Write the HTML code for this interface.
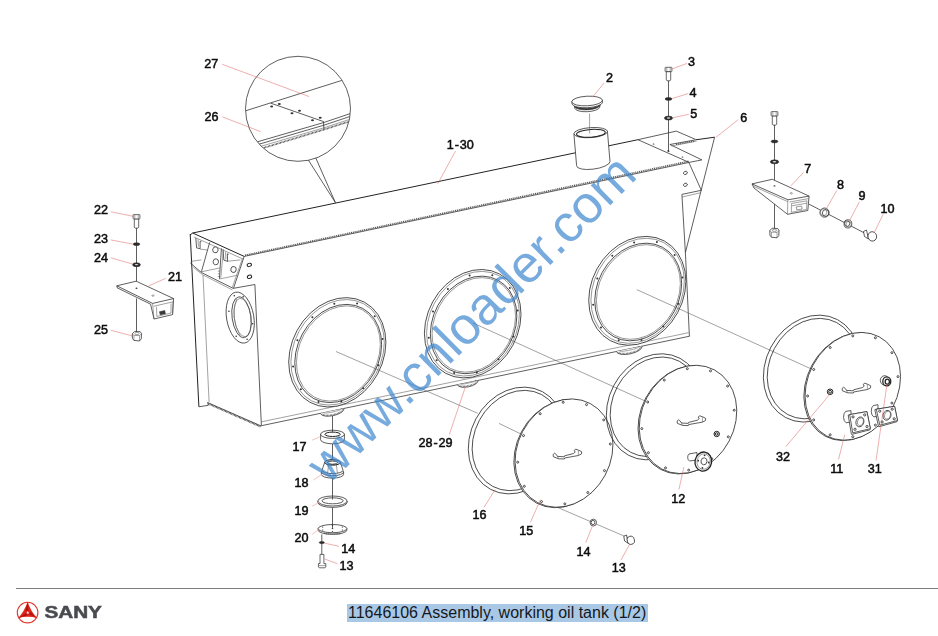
<!DOCTYPE html>
<html><head><meta charset="utf-8"><title>11646106 Assembly, working oil tank (1/2)</title>
<style>
html,body{margin:0;padding:0;background:#fff;}
body{width:938px;height:636px;overflow:hidden;position:relative;font-family:"Liberation Sans",sans-serif;}
svg{position:absolute;left:0;top:0;filter:blur(0.35px);}
.k{fill:none;stroke:#2a2a2a;stroke-width:0.75;}
.kw{fill:#fff;stroke:#2a2a2a;stroke-width:0.75;stroke-linejoin:round;}
.kt{fill:none;stroke:#555;stroke-width:0.55;}
.k2{fill:none;stroke:#222;stroke-width:1.3;}
.kh2{fill:none;stroke:#666;stroke-width:1.6;stroke-dasharray:0.7 0.7;}
.kdk{fill:#3a3a3a;stroke:#333;stroke-width:0.5;}
.kb{fill:#fff;stroke:#2a2a2a;stroke-width:0.7;stroke-linejoin:miter;}
.k1w{fill:#fff;stroke:#222;stroke-width:1.0;}
.kh3{fill:none;stroke:#444;stroke-width:1.7;stroke-dasharray:0.8 0.6;}
.k1{fill:none;stroke:#222;stroke-width:1.0;}
.kh{fill:none;stroke:#5a5a5a;stroke-width:1.6;stroke-dasharray:1.1 0.8;}
.k2w{fill:#fff;stroke:#222;stroke-width:1.3;}
.kd{fill:#fff;stroke:#222;stroke-width:0.8;}
.dot{fill:#333;stroke:none;}
.wa{fill:#2b2b2b;stroke:#2b2b2b;stroke-width:0.5;}
.wi{fill:#ddd;stroke:none;}
.r{stroke:#d9625c;stroke-width:0.6;stroke-opacity:0.85;fill:none;}
.rp{stroke:#f0a8a4;stroke-width:0.7;fill:none;}
.lb{font-family:"Liberation Sans",sans-serif;font-size:12.6px;fill:#0c0c0c;stroke:#0c0c0c;stroke-width:0.5;}
.wm{font-family:"Liberation Sans",sans-serif;font-size:52.5px;fill:#3f88cf;fill-opacity:0.7;}
#rule{position:absolute;left:16px;top:588px;width:922px;height:1px;background:#7d7d7d;}
#title{position:absolute;left:347px;top:604.3px;width:300px;height:17.7px;line-height:17.7px;background:#a9c8e6;color:#15181c;font-size:16px;white-space:nowrap;padding:0 0 0 1px;overflow:hidden;}
</style></head><body>
<svg width="938" height="636" viewBox="0 0 938 636">
<g>
<clipPath id="dc"><circle cx="298" cy="108.8" r="52.2"/></clipPath>
<path class="k" d="M308.2 159.8 L335.4 202.6 L315.8 158.0"/>
<circle class="kw" cx="298" cy="108.8" r="52.5"/>
<g clip-path="url(#dc)">
<line class="k" x1="245.0" y1="111.0" x2="342.5" y2="80.2"/>
<line class="k" x1="270.8" y1="103.2" x2="323.6" y2="121.6"/>
<path class="k" d="M255.0 142.5 L323.5 122.6 L352.0 113.0"/>
<path class="k" d="M257.0 144.8 L323.9 125.2 L352.0 115.8"/>
<path class="kt" d="M258.0 147.2 L323.9 127.8 L352.0 118.6"/>
<path class="kh3" d="M260.0 149.0 L323.9 129.6 L352.0 120.6"/>
<line class="k" x1="323.5" y1="121.6" x2="323.9" y2="129.3"/>
</g>
<ellipse class="dot" cx="271.6" cy="106.4" rx="1.5" ry="1.0"/>
<ellipse class="dot" cx="279.3" cy="103.9" rx="1.5" ry="1.0"/>
<ellipse class="dot" cx="292.0" cy="113.3" rx="1.5" ry="1.0"/>
<ellipse class="dot" cx="299.5" cy="110.8" rx="1.5" ry="1.0"/>
<ellipse class="dot" cx="312.5" cy="120.2" rx="1.5" ry="1.0"/>
<ellipse class="dot" cx="320.2" cy="117.7" rx="1.5" ry="1.0"/>
</g>
<text class="lb" x="204.3" y="67.6" text-anchor="start">27</text>
<line class="r" x1="222.2" y1="64.3" x2="309.2" y2="96.6"/>
<text class="lb" x="204.6" y="121.3" text-anchor="start">26</text>
<line class="r" x1="222.2" y1="116.8" x2="260.6" y2="131.6"/>
<line class="k1" x1="192.7" y1="233.0" x2="637.9" y2="139.7"/>
<path class="k1" d="M190.0 235.0 L192.7 233.0"/>
<line class="k" x1="244.2" y1="256.4" x2="689.1" y2="162.4"/>
<line class="kh" x1="245.0" y1="255.3" x2="689.0" y2="161.2"/>
<line class="k1" x1="192.7" y1="233.0" x2="244.2" y2="256.4"/>
<line class="kt" x1="194.0" y1="237.0" x2="242.5" y2="258.8"/>
<line class="k1" x1="190.2" y1="234.0" x2="198.9" y2="406.8"/>
<line class="kt" x1="203.0" y1="275.0" x2="209.1" y2="402.0"/>
<line class="k" x1="198.9" y1="406.8" x2="208.3" y2="405.3"/>
<line class="k" x1="208.3" y1="405.3" x2="207.6" y2="402.2"/>
<line class="k" x1="207.8" y1="402.6" x2="261.2" y2="426.0"/>
<line class="kh3" x1="208.4" y1="403.8" x2="260.8" y2="426.8"/>
<line class="k" x1="254.9" y1="284.5" x2="261.4" y2="425.7"/>
<line class="k" x1="261.4" y1="425.7" x2="689.6" y2="336.2"/>
<line class="kt" x1="261.6" y1="421.8" x2="688.6" y2="332.7"/>
<path class="k" d="M244.2 256.4 L233.5 288.3 L254.9 284.5"/>
<path class="k" d="M190.4 263.1 L201.4 272.5 L233.5 288.5"/>
<path class="kt" d="M193.4 267.4 L202.7 274.8 L232.4 289.9"/>
<path class="kt" d="M190.7 261.4 L201.4 259.9"/>
<path class="k" d="M195.8 238.0 L196.6 247.9 L200.1 248.7 L200.1 241.2 L201.4 241.7"/>
<path class="kt" d="M198.0 239.3 L198.4 246.8"/>
<path class="k" d="M223.0 250.3 L223.9 260.2 L227.6 261.3 L227.3 253.8 L228.8 254.3"/>
<path class="kt" d="M225.5 251.8 L225.9 259.4"/>
<path class="k" d="M209.7 242.4 L201.4 271.8"/>
<path class="k" d="M221.4 248.4 L219.4 279.2"/>
<path class="kt" d="M201.4 271.8 L220.1 267.9"/>
<path class="kt" d="M200.1 249.1 L207.4 250.0"/>
<path class="kt" d="M223.4 249.1 L220.8 277.8"/>
<path class="kt" d="M242.6 258.0 L232.4 287.2"/>
<path class="kt" d="M220.1 278.9 L236.8 275.4"/>
<path class="kt" d="M227.1 261.3 L240.4 259.9"/>
<path class="kt" d="M217.8 271.1 L220.1 271.1"/>
<path class="kt" d="M217.8 273.8 L220.1 273.8"/>
<path class="kt" d="M217.8 276.5 L220.1 276.5"/>
<ellipse class="kw" cx="215.4" cy="249.8" rx="2.7" ry="3.0" transform="rotate(10 215.4 249.8)"/>
<ellipse class="kw" cx="215.8" cy="261.8" rx="2.7" ry="3.0" transform="rotate(10 215.8 261.8)"/>
<ellipse class="kw" cx="233.5" cy="269.5" rx="2.7" ry="3.0" transform="rotate(10 233.5 269.5)"/>
<ellipse class="k1w" cx="249.3" cy="264.9" rx="2.2" ry="1.6" transform="rotate(-20 249.3 264.9)"/>
<ellipse class="k1w" cx="249.5" cy="276.8" rx="2.2" ry="1.6" transform="rotate(-20 249.5 276.8)"/>
<ellipse class="kw" cx="240.2" cy="317.6" rx="13.6" ry="25.8" transform="rotate(-10 240.2 317.6)"/>
<ellipse class="kw" cx="241.5" cy="317.3" rx="9.4" ry="20.6" transform="rotate(-8 241.5 317.3)"/>
<ellipse class="kt" cx="242.6" cy="317.5" rx="8.4" ry="19.4" transform="rotate(-8 242.6 317.5)"/>
<path class="kt" d="M236.5 299 Q230 318 240.5 336.5"/>
<ellipse class="dot" cx="228.9" cy="311.3" rx="0.8" ry="0.8"/>
<ellipse class="dot" cx="234.3" cy="295.8" rx="0.8" ry="0.8"/>
<ellipse class="dot" cx="243.2" cy="296.8" rx="0.8" ry="0.8"/>
<ellipse class="dot" cx="252.5" cy="323.7" rx="0.8" ry="0.8"/>
<ellipse class="dot" cx="247.1" cy="339.2" rx="0.8" ry="0.8"/>
<ellipse class="dot" cx="236.2" cy="336.2" rx="0.8" ry="0.8"/>
<path class="k" d="M714.6 137.2 L685.4 252.6"/>
<path class="k" d="M689.0 162.7 L701.3 190.3"/>
<path class="k" d="M681.9 194.4 L701.3 190.3"/>
<path class="kt" d="M682.2 197.0 L700.3 192.8"/>
<path class="k" d="M681.9 194.4 L685.4 252.6"/>
<path class="k" d="M685.4 252.6 L689.4 336.2"/>
<ellipse class="kw" cx="685.4" cy="172.9" rx="2.0" ry="1.5" transform="rotate(-25 685.4 172.9)"/>
<ellipse class="kw" cx="685.4" cy="184.8" rx="2.0" ry="1.5" transform="rotate(-25 685.4 184.8)"/>
<path class="k" d="M637.9 139.7 L676.3 131.1 L695.5 139.4"/>
<path class="k" d="M637.9 139.7 L689.1 162.4 L701.9 159.9 L669.9 144.5"/>
<path class="k" d="M669.9 144.5 L695.8 139.8"/>
<path class="kt" d="M671.5 146.0 L696.5 141.2"/>
<path class="kh" d="M676.0 144.3 L694.0 141.0"/>
<path class="k1" d="M695.8 139.8 L714.6 137.2"/>
<ellipse class="dot" cx="653.5" cy="144.0" rx="0.9" ry="0.6"/>
<ellipse class="dot" cx="668.3" cy="150.5" rx="0.9" ry="0.6"/>
<ellipse class="dot" cx="682.5" cy="157.0" rx="0.9" ry="0.6"/>
<path class="kw" d="M320.5 413.3 A11.8 4.8 -12 0 0 344.0 408.4"/>
<path class="kh2" d="M322.0 413.9 A10.2 3.2 -12 0 0 342.5 409.0"/>
<path class="kt" d="M323.5 412.9 A8.8 1.4 -12 0 0 341.0 408.2"/>
<ellipse class="kw" cx="337.3" cy="352.3" rx="45.8" ry="57.0" transform="rotate(28.5 337.3 352.3)"/>
<ellipse class="kt" cx="337.6" cy="352.3" rx="43.9" ry="55.1" transform="rotate(28.5 337.6 352.3)"/>
<ellipse class="k" cx="338.2" cy="353.5" rx="40.8" ry="51.3" transform="rotate(28.5 338.2 353.5)"/>
<ellipse class="kt" cx="338.4" cy="353.5" rx="39.3" ry="49.8" transform="rotate(28.5 338.4 353.5)"/>
<ellipse class="dot" cx="363.2" cy="388.2" rx="1.0" ry="1.0"/>
<ellipse class="dot" cx="341.3" cy="401.6" rx="1.0" ry="1.0"/>
<ellipse class="dot" cx="318.5" cy="402.0" rx="1.0" ry="1.0"/>
<ellipse class="dot" cx="300.9" cy="389.2" rx="1.0" ry="1.0"/>
<ellipse class="dot" cx="293.1" cy="366.5" rx="1.0" ry="1.0"/>
<ellipse class="dot" cx="297.4" cy="340.2" rx="1.0" ry="1.0"/>
<ellipse class="dot" cx="312.4" cy="317.2" rx="1.0" ry="1.0"/>
<ellipse class="dot" cx="334.3" cy="303.8" rx="1.0" ry="1.0"/>
<ellipse class="dot" cx="357.1" cy="303.4" rx="1.0" ry="1.0"/>
<ellipse class="dot" cx="374.7" cy="316.2" rx="1.0" ry="1.0"/>
<ellipse class="dot" cx="382.5" cy="338.9" rx="1.0" ry="1.0"/>
<ellipse class="dot" cx="378.2" cy="365.2" rx="1.0" ry="1.0"/>
<path class="kw" d="M457.5 384.7 A10.2 4.2 -12 0 0 478.0 380.4"/>
<path class="kh2" d="M459.0 385.3 A8.8 2.6 -12 0 0 476.5 381.0"/>
<path class="kt" d="M460.5 384.3 A7.2 0.8 -12 0 0 475.0 380.2"/>
<ellipse class="kw" cx="472.7" cy="323.7" rx="45.6" ry="56.5" transform="rotate(28.5 472.7 323.7)"/>
<ellipse class="kt" cx="473.0" cy="323.7" rx="43.7" ry="54.6" transform="rotate(28.5 473.0 323.7)"/>
<ellipse class="k" cx="473.6" cy="324.9" rx="40.7" ry="50.9" transform="rotate(28.5 473.6 324.9)"/>
<ellipse class="kt" cx="473.8" cy="324.9" rx="39.2" ry="49.4" transform="rotate(28.5 473.8 324.9)"/>
<ellipse class="dot" cx="498.5" cy="359.3" rx="1.0" ry="1.0"/>
<ellipse class="dot" cx="476.8" cy="372.6" rx="1.0" ry="1.0"/>
<ellipse class="dot" cx="454.1" cy="373.0" rx="1.0" ry="1.0"/>
<ellipse class="dot" cx="436.6" cy="360.2" rx="1.0" ry="1.0"/>
<ellipse class="dot" cx="428.8" cy="337.7" rx="1.0" ry="1.0"/>
<ellipse class="dot" cx="433.0" cy="311.6" rx="1.0" ry="1.0"/>
<ellipse class="dot" cx="447.9" cy="288.9" rx="1.0" ry="1.0"/>
<ellipse class="dot" cx="469.6" cy="275.6" rx="1.0" ry="1.0"/>
<ellipse class="dot" cx="492.3" cy="275.2" rx="1.0" ry="1.0"/>
<ellipse class="dot" cx="509.8" cy="288.0" rx="1.0" ry="1.0"/>
<ellipse class="dot" cx="517.6" cy="310.5" rx="1.0" ry="1.0"/>
<ellipse class="dot" cx="513.4" cy="336.6" rx="1.0" ry="1.0"/>
<path class="kw" d="M616.5 351.5 A12.8 5.0 -12 0 0 642.0 346.2"/>
<path class="kh2" d="M618.0 352.1 A11.2 3.4 -12 0 0 640.5 346.8"/>
<path class="kt" d="M619.5 351.1 A9.8 1.6 -12 0 0 639.0 346.0"/>
<ellipse class="kw" cx="637.3" cy="290.8" rx="45.9" ry="56.7" transform="rotate(28.5 637.3 290.8)"/>
<ellipse class="kt" cx="637.6" cy="290.8" rx="44.0" ry="54.8" transform="rotate(28.5 637.6 290.8)"/>
<ellipse class="k" cx="638.2" cy="292.0" rx="41.0" ry="50.9" transform="rotate(28.5 638.2 292.0)"/>
<ellipse class="kt" cx="638.4" cy="292.0" rx="39.5" ry="49.4" transform="rotate(28.5 638.4 292.0)"/>
<ellipse class="dot" cx="663.3" cy="326.6" rx="1.0" ry="1.0"/>
<ellipse class="dot" cx="641.5" cy="340.0" rx="1.0" ry="1.0"/>
<ellipse class="dot" cx="618.7" cy="340.3" rx="1.0" ry="1.0"/>
<ellipse class="dot" cx="601.0" cy="327.4" rx="1.0" ry="1.0"/>
<ellipse class="dot" cx="593.2" cy="304.8" rx="1.0" ry="1.0"/>
<ellipse class="dot" cx="597.3" cy="278.6" rx="1.0" ry="1.0"/>
<ellipse class="dot" cx="612.3" cy="255.8" rx="1.0" ry="1.0"/>
<ellipse class="dot" cx="634.1" cy="242.4" rx="1.0" ry="1.0"/>
<ellipse class="dot" cx="656.9" cy="242.1" rx="1.0" ry="1.0"/>
<ellipse class="dot" cx="674.6" cy="255.0" rx="1.0" ry="1.0"/>
<ellipse class="dot" cx="682.4" cy="277.6" rx="1.0" ry="1.0"/>
<ellipse class="dot" cx="678.3" cy="303.8" rx="1.0" ry="1.0"/>
<line class="kt" x1="336.0" y1="351.5" x2="477.8" y2="413.3"/>
<line class="kt" x1="499.0" y1="423.4" x2="523.0" y2="435.0"/>
<line class="kt" x1="473.0" y1="323.0" x2="646.7" y2="401.7"/>
<line class="kt" x1="636.8" y1="289.6" x2="811.8" y2="369.2"/>
<line class="kt" x1="545.5" y1="502.2" x2="631.0" y2="539.0"/>
<ellipse class="k" cx="516.5" cy="440.5" rx="46.0" ry="55.3" transform="rotate(28 516.5 440.5)"/>
<ellipse class="k" cx="517.2" cy="440.5" rx="42.9" ry="52.0" transform="rotate(28 517.2 440.5)"/>
<ellipse class="kw" cx="562.8" cy="453.5" rx="46.7" ry="56.1" transform="rotate(28 562.8 453.5)"/>
<ellipse class="kw" cx="564.0" cy="453.1" rx="46.7" ry="56.1" transform="rotate(28 564.0 453.1)"/>
<ellipse class="kd" cx="604.5" cy="470.6" rx="1.0" ry="1.0"/>
<ellipse class="kd" cx="587.8" cy="492.5" rx="1.0" ry="1.0"/>
<ellipse class="kd" cx="564.8" cy="503.9" rx="1.0" ry="1.0"/>
<ellipse class="kd" cx="541.5" cy="501.6" rx="1.0" ry="1.0"/>
<ellipse class="kd" cx="524.3" cy="486.3" rx="1.0" ry="1.0"/>
<ellipse class="kd" cx="517.7" cy="462.2" rx="1.0" ry="1.0"/>
<ellipse class="kd" cx="523.5" cy="435.6" rx="1.0" ry="1.0"/>
<ellipse class="kd" cx="540.2" cy="413.7" rx="1.0" ry="1.0"/>
<ellipse class="kd" cx="563.2" cy="402.3" rx="1.0" ry="1.0"/>
<ellipse class="kd" cx="586.5" cy="404.6" rx="1.0" ry="1.0"/>
<ellipse class="kd" cx="603.7" cy="419.9" rx="1.0" ry="1.0"/>
<ellipse class="kd" cx="610.3" cy="444.0" rx="1.0" ry="1.0"/>
<path class="kw" d="M554.6 453.2 L553.1 454.5 L553.4 456.8 L558.6 458.8 L564.3 459.0 L564.6 458.0 L578.4 455.5 L581.5 453.9 L581.7 451.8 L579.0 450.4 L575.8 449.2 L574.2 450.4 L575.2 452.1 L573.3 453.6 L564.6 455.8 L564.3 456.8 L557.6 456.4 L555.4 453.6 Z"/>
<path class="kt" d="M557.3 455.9 L558.6 458.8 M578.4 450.8 L578.4 455.5"/>
<ellipse class="k" cx="654.3" cy="406.8" rx="45.8" ry="54.9" transform="rotate(28 654.3 406.8)"/>
<ellipse class="k" cx="655.0" cy="406.8" rx="42.7" ry="51.6" transform="rotate(28 655.0 406.8)"/>
<ellipse class="kw" cx="686.8" cy="419.8" rx="46.5" ry="56.1" transform="rotate(28 686.8 419.8)"/>
<ellipse class="kw" cx="688.0" cy="419.4" rx="46.5" ry="56.1" transform="rotate(28 688.0 419.4)"/>
<ellipse class="kd" cx="728.3" cy="436.8" rx="1.0" ry="1.0"/>
<ellipse class="kd" cx="711.7" cy="458.7" rx="1.0" ry="1.0"/>
<ellipse class="kd" cx="688.7" cy="470.1" rx="1.0" ry="1.0"/>
<ellipse class="kd" cx="665.5" cy="467.9" rx="1.0" ry="1.0"/>
<ellipse class="kd" cx="648.4" cy="452.7" rx="1.0" ry="1.0"/>
<ellipse class="kd" cx="641.8" cy="428.6" rx="1.0" ry="1.0"/>
<ellipse class="kd" cx="647.7" cy="402.0" rx="1.0" ry="1.0"/>
<ellipse class="kd" cx="664.3" cy="380.1" rx="1.0" ry="1.0"/>
<ellipse class="kd" cx="687.3" cy="368.7" rx="1.0" ry="1.0"/>
<ellipse class="kd" cx="710.5" cy="370.9" rx="1.0" ry="1.0"/>
<ellipse class="kd" cx="727.6" cy="386.1" rx="1.0" ry="1.0"/>
<ellipse class="kd" cx="734.2" cy="410.2" rx="1.0" ry="1.0"/>
<path class="kw" d="M678.6 419.8 L677.1 421.1 L677.4 423.4 L682.6 425.4 L688.3 425.6 L688.6 424.6 L702.4 422.1 L705.5 420.5 L705.7 418.4 L703.0 417.0 L699.8 415.8 L698.2 417.0 L699.2 418.7 L697.3 420.2 L688.6 422.4 L688.3 423.4 L681.6 423.0 L679.4 420.2 Z"/>
<path class="kt" d="M681.3 422.5 L682.6 425.4 M702.4 417.4 L702.4 422.1"/>
<ellipse class="k" cx="811.6" cy="368.6" rx="46.0" ry="55.4" transform="rotate(28 811.6 368.6)"/>
<ellipse class="k" cx="812.3" cy="368.6" rx="42.9" ry="52.1" transform="rotate(28 812.3 368.6)"/>
<ellipse class="kw" cx="851.6" cy="386.7" rx="45.1" ry="56.1" transform="rotate(28 851.6 386.7)"/>
<ellipse class="kw" cx="852.8" cy="386.3" rx="45.1" ry="56.1" transform="rotate(28 852.8 386.3)"/>
<ellipse class="kd" cx="891.9" cy="403.1" rx="1.0" ry="1.0"/>
<ellipse class="kd" cx="875.4" cy="425.1" rx="1.0" ry="1.0"/>
<ellipse class="kd" cx="852.8" cy="436.7" rx="1.0" ry="1.0"/>
<ellipse class="kd" cx="830.2" cy="434.8" rx="1.0" ry="1.0"/>
<ellipse class="kd" cx="813.7" cy="419.9" rx="1.0" ry="1.0"/>
<ellipse class="kd" cx="807.6" cy="396.0" rx="1.0" ry="1.0"/>
<ellipse class="kd" cx="813.7" cy="369.5" rx="1.0" ry="1.0"/>
<ellipse class="kd" cx="830.2" cy="347.5" rx="1.0" ry="1.0"/>
<ellipse class="kd" cx="852.8" cy="335.9" rx="1.0" ry="1.0"/>
<ellipse class="kd" cx="875.4" cy="337.8" rx="1.0" ry="1.0"/>
<ellipse class="kd" cx="891.9" cy="352.7" rx="1.0" ry="1.0"/>
<ellipse class="kd" cx="898.0" cy="376.6" rx="1.0" ry="1.0"/>
<path class="kw" d="M843.6 387.2 L842.1 388.5 L842.4 390.8 L847.6 392.8 L853.3 393.0 L853.6 392.0 L867.4 389.5 L870.5 387.9 L870.7 385.8 L868.0 384.4 L864.8 383.2 L863.2 384.4 L864.2 386.1 L862.3 387.6 L853.6 389.8 L853.3 390.8 L846.6 390.4 L844.4 387.6 Z"/>
<path class="kt" d="M846.3 389.9 L847.6 392.8 M867.4 384.8 L867.4 389.5"/>
<ellipse class="k1w" cx="716.7" cy="434.0" rx="2.7" ry="2.7"/>
<ellipse class="k1" cx="716.7" cy="434.0" rx="1.3" ry="1.3"/>
<path class="kw" d="M697 452.5 L689 454 A3 4 0 0 0 689.5 461 L697 460 Z"/>
<ellipse class="k2w" cx="703.3" cy="461.6" rx="8.3" ry="9.6" transform="rotate(10 703.3 461.6)"/>
<ellipse class="kt" cx="703.6" cy="461.6" rx="6.6" ry="7.8" transform="rotate(10 703.6 461.6)"/>
<ellipse class="k" cx="704.0" cy="461.3" rx="3.0" ry="3.5" transform="rotate(10 704.0 461.3)"/>
<ellipse class="dot" cx="708.8" cy="462.5" rx="0.9" ry="0.9"/>
<ellipse class="dot" cx="702.4" cy="467.9" rx="0.9" ry="0.9"/>
<ellipse class="dot" cx="698.2" cy="460.7" rx="0.9" ry="0.9"/>
<ellipse class="dot" cx="704.6" cy="455.3" rx="0.9" ry="0.9"/>
<ellipse class="k1w" cx="830.1" cy="391.8" rx="2.8" ry="2.8"/>
<ellipse class="k1" cx="830.1" cy="391.8" rx="1.4" ry="1.4"/>
<ellipse class="kw" cx="884.6" cy="380.4" rx="4.3" ry="4.7"/>
<ellipse class="k2w" cx="886.8" cy="381.4" rx="4.0" ry="4.5"/>
<ellipse class="k2" cx="887.3" cy="381.7" rx="2.1" ry="2.5"/>
<path class="kw" d="M851.0 410.6 L845.7 411.4 A3.6 6.1 0 0 0 846.1 422.8 L851.0 422.0 Z"/>
<path class="kw" d="M848.2 415.0 L849.7 414.6 L866.9 411.6 L870.4 428.7 L869.8 429.9 L851.6 434.4 L851.2 433.2 Z"/>
<path class="kw" d="M849.7 414.6 L866.9 411.6 L870.4 428.7 L852.7 432.8 Z"/>
<ellipse class="k" cx="859.9" cy="421.9" rx="3.9" ry="5.0" transform="rotate(18 859.9 421.9)"/>
<ellipse class="kt" cx="860.4" cy="421.8" rx="2.9" ry="4.0" transform="rotate(18 860.4 421.8)"/>
<ellipse class="kd" cx="853.0" cy="416.9" rx="1.1" ry="1.1"/>
<ellipse class="kd" cx="864.7" cy="414.9" rx="1.1" ry="1.1"/>
<ellipse class="kd" cx="867.0" cy="426.5" rx="1.1" ry="1.1"/>
<ellipse class="kd" cx="855.0" cy="429.3" rx="1.1" ry="1.1"/>
<path class="kw" d="M878.0 404.7 L873.4 405.5 A3.6 6.1 0 0 0 873.8 416.9 L878.0 416.1 Z"/>
<path class="kw" d="M874.8 409.6 L876.3 409.2 L894.6 406.3 L897.5 420.5 L896.9 421.7 L878.7 426.8 L878.3 425.6 Z"/>
<path class="kw" d="M876.3 409.2 L894.6 406.3 L897.5 420.5 L879.8 425.2 Z"/>
<ellipse class="k" cx="887.0" cy="415.3" rx="3.9" ry="5.0" transform="rotate(18 887.0 415.3)"/>
<ellipse class="kt" cx="887.5" cy="415.2" rx="2.9" ry="4.0" transform="rotate(18 887.5 415.2)"/>
<ellipse class="kd" cx="879.7" cy="411.2" rx="1.1" ry="1.1"/>
<ellipse class="kd" cx="892.2" cy="409.2" rx="1.1" ry="1.1"/>
<ellipse class="kd" cx="894.2" cy="418.8" rx="1.1" ry="1.1"/>
<ellipse class="kd" cx="882.1" cy="422.0" rx="1.1" ry="1.1"/>
<path class="kw" d="M573.9 134 L576.6 165.6 A16.6 5.4 -8 0 0 610 161.6 L607.4 131 Z"/>
<ellipse class="kw" cx="590.7" cy="132.6" rx="16.8" ry="5.0" transform="rotate(-4 590.7 132.6)"/>
<ellipse class="k1" cx="590.9" cy="133.3" rx="14.4" ry="3.9" transform="rotate(-4 590.9 133.3)"/>
<line class="kt" x1="589.6" y1="113.5" x2="589.6" y2="133.5"/>
<path class="kw" d="M574.6 105.6 L574.8 108.4 A12.6 4.4 -3 0 0 599.8 107.2 L599.7 104.2 Z"/>
<path class="kdk" d="M574.3 104.8 A13 4.4 -3 0 0 600.2 103.6 L600.1 105.6 A13 4.3 -3 0 1 574.5 107 Z"/>
<path class="kw" d="M571.8 101.8 L572.1 104.2 A15.3 4.8 -3 0 0 602.5 102.6 L602.4 100.2 Z"/>
<ellipse class="kw" cx="587.1" cy="101.0" rx="15.3" ry="4.8" transform="rotate(-3 587.1 101.0)"/>
<text class="lb" x="606.0" y="82.1" text-anchor="start">2</text>
<line class="r" x1="604.0" y1="83.0" x2="592.5" y2="97.3"/>
<line class="k" x1="668.5" y1="81.0" x2="668.5" y2="151.0"/>
<path class="kb" d="M666.3 71.6 v8.4 l0.7 0.8 h3.0 l0.7 -0.8 v-8.4 Z"/>
<rect class="kb" x="665.1" y="67.3" width="6.8" height="4.3" rx="0.5"/>
<path class="kt" d="M666.8 67.6 v3.8 M670.2 67.6 v3.8"/>
<ellipse class="wa" cx="668.5" cy="99.0" rx="3.4" ry="1.4"/>
<ellipse class="wa" cx="668.5" cy="118.1" rx="4.1" ry="2.0"/>
<ellipse class="wi" cx="668.5" cy="118.0" rx="1.8" ry="0.7"/>
<ellipse class="dot" cx="668.5" cy="151.3" rx="1.0" ry="0.7"/>
<text class="lb" x="688.0" y="66.2" text-anchor="start">3</text>
<line class="r" x1="687.1" y1="63.4" x2="671.8" y2="69.0"/>
<text class="lb" x="689.5" y="96.8" text-anchor="start">4</text>
<line class="r" x1="688.4" y1="93.5" x2="672.0" y2="98.6"/>
<text class="lb" x="690.3" y="117.8" text-anchor="start">5</text>
<line class="r" x1="688.9" y1="114.3" x2="672.8" y2="117.8"/>
<text class="lb" x="740.3" y="121.8" text-anchor="start">6</text>
<line class="r" x1="738.3" y1="119.6" x2="716.0" y2="137.3"/>
<line class="k" x1="136.5" y1="228.0" x2="136.5" y2="289.0"/>
<line class="k" x1="136.5" y1="298.5" x2="136.5" y2="332.0"/>
<path class="kb" d="M134.3 218.9 v8.4 l0.7 0.8 h3.0 l0.7 -0.8 v-8.4 Z"/>
<rect class="kb" x="133.1" y="214.6" width="6.8" height="4.3" rx="0.5"/>
<path class="kt" d="M134.8 214.9 v3.8 M138.2 214.9 v3.8"/>
<ellipse class="wa" cx="136.5" cy="244.2" rx="3.3" ry="1.4"/>
<ellipse class="wa" cx="136.5" cy="264.7" rx="3.9" ry="2.0"/>
<ellipse class="wi" cx="136.5" cy="264.6" rx="1.8" ry="0.7"/>
<path class="kw" d="M116.8 285.8 L136.2 281.2 L173.6 298.6 L172.6 314.6 L154 319 L150.6 304.2 L117.2 287.8 Z"/>
<path class="k" d="M116.8 285.8 L152.6 303.4 L173.6 298.6"/>
<path class="kt" d="M152.6 303.4 L154.0 319.0"/>
<path class="kt" d="M153.6 306.3 L173.0 301.8 L172.6 313.6"/>
<path class="kt" d="M156.5 306.8 L156.8 316.5 L171.0 313.0 L171.0 303.4"/>
<rect class="kdk" x="159.8" y="311.2" width="5.4" height="3.2" transform="rotate(-12 162 313)"/>
<ellipse class="dot" cx="136.5" cy="288.3" rx="1.0" ry="0.7"/>
<ellipse class="kt" cx="153.0" cy="295.6" rx="1.1" ry="0.7"/>
<path class="kw" d="M132.3 333.8 L134.6 331.4 L140.2 331.7 L141.5 333.6 L141.3 338.8 L139.5 341.0 L133.9 340.4 L132.4 338.4 Z"/>
<path class="kt" d="M132.3 333.8 L134.0 335.4 L139.6 335.6 L141.5 333.6 M134.0 335.4 L133.9 340.4 M139.6 335.6 L139.5 341.0"/>
<ellipse class="kt" cx="137.0" cy="333.5" rx="2.2" ry="1.1"/>
<text class="lb" x="94.0" y="213.8" text-anchor="start">22</text>
<line class="r" x1="110.7" y1="211.8" x2="133.5" y2="216.4"/>
<text class="lb" x="94.0" y="243.1" text-anchor="start">23</text>
<line class="r" x1="110.7" y1="239.9" x2="133.5" y2="244.2"/>
<text class="lb" x="94.0" y="261.6" text-anchor="start">24</text>
<line class="r" x1="110.7" y1="257.8" x2="133.0" y2="264.2"/>
<text class="lb" x="168.0" y="281.1" text-anchor="start">21</text>
<line class="r" x1="165.7" y1="278.3" x2="148.6" y2="286.0"/>
<text class="lb" x="94.0" y="334.1" text-anchor="start">25</text>
<line class="r" x1="110.7" y1="330.2" x2="132.3" y2="335.9"/>
<line class="k" x1="774.5" y1="125.0" x2="774.5" y2="186.0"/>
<line class="k" x1="774.5" y1="203.5" x2="774.5" y2="229.5"/>
<path class="kb" d="M772.3 115.9 v8.4 l0.7 0.8 h3.0 l0.7 -0.8 v-8.4 Z"/>
<rect class="kb" x="771.1" y="111.6" width="6.8" height="4.3" rx="0.5"/>
<path class="kt" d="M772.8 111.9 v3.8 M776.2 111.9 v3.8"/>
<ellipse class="wa" cx="774.5" cy="141.5" rx="3.4" ry="1.4"/>
<ellipse class="wa" cx="774.5" cy="161.8" rx="4.2" ry="2.0"/>
<ellipse class="wi" cx="774.5" cy="161.7" rx="1.9" ry="0.7"/>
<path class="kw" d="M752 183.9 L772.3 179.3 L809.1 196.1 L807.8 210.5 L787.5 214.3 L754 188 Z"/>
<path class="k" d="M752.0 183.9 L788.0 199.8 L809.1 196.1"/>
<path class="kt" d="M753.0 186.0 L787.6 201.6"/>
<path class="kt" d="M787.8 199.8 L787.5 214.3"/>
<path class="kt" d="M789.5 202.0 L808.7 198.6"/>
<path class="kt" d="M791.5 203.5 L791.3 212.3 L806.5 209.4 L807.0 200.8 L791.5 203.5"/>
<path class="kt" d="M792.0 205.8 L806.8 203.2"/>
<rect class="kt" x="796.5" y="206.5" width="5.4" height="3" transform="rotate(-10 799 208)"/>
<ellipse class="dot" cx="774.5" cy="185.9" rx="1.0" ry="0.7"/>
<ellipse class="kt" cx="791.3" cy="193.3" rx="1.1" ry="0.7"/>
<path class="kw" d="M769.8 230.6 L772.1 228.2 L777.7 228.5 L779.0 230.4 L778.8 235.6 L777.0 237.8 L771.4 237.2 L769.9 235.2 Z"/>
<path class="kt" d="M769.8 230.6 L771.5 232.2 L777.1 232.4 L779.0 230.4 M771.5 232.2 L771.4 237.2 M777.1 232.4 L777.0 237.8"/>
<ellipse class="kt" cx="774.5" cy="230.3" rx="2.2" ry="1.1"/>
<line class="k" x1="809.1" y1="204.2" x2="866.0" y2="233.8"/>
<ellipse class="kw" cx="824.5" cy="212.6" rx="4.6" ry="4.6"/>
<ellipse class="kt" cx="823.6" cy="212.3" rx="3.2" ry="3.4"/>
<ellipse class="k" cx="825.6" cy="213.0" rx="3.2" ry="3.4"/>
<ellipse class="kw" cx="847.9" cy="223.9" rx="3.9" ry="4.1"/>
<ellipse class="k" cx="847.2" cy="223.6" rx="2.5" ry="2.8"/>
<ellipse class="kt" cx="848.6" cy="224.2" rx="2.5" ry="2.8"/>
<path class="kw" d="M866.5 230 L863.5 231.5 L864.5 236.5 L868.5 239 Z"/>
<ellipse class="kw" cx="872.3" cy="236.4" rx="4.3" ry="4.7" transform="rotate(-15 872.3 236.4)"/>
<text class="lb" x="804.2" y="172.5" text-anchor="start">7</text>
<line class="r" x1="803.5" y1="172.5" x2="790.8" y2="185.9"/>
<text class="lb" x="837.0" y="188.9" text-anchor="start">8</text>
<line class="r" x1="837.0" y1="190.2" x2="826.5" y2="208.5"/>
<text class="lb" x="858.4" y="199.8" text-anchor="start">9</text>
<line class="r" x1="859.4" y1="201.6" x2="849.7" y2="220.4"/>
<text class="lb" x="880.5" y="212.5" text-anchor="start">10</text>
<line class="r" x1="883.2" y1="214.3" x2="874.0" y2="233.0"/>
<path class="kw" d="M320.6 434.3 v5.4 a11.9 4.1 0 0 0 23.8 0 v-5.4 Z"/>
<ellipse class="kw" cx="332.5" cy="434.3" rx="11.9" ry="4.1"/>
<ellipse class="k1" cx="332.6" cy="434.3" rx="7.7" ry="2.2"/>
<line class="k" x1="332.5" y1="416.0" x2="332.5" y2="432.5"/>
<line class="k" x1="332.5" y1="444.0" x2="332.5" y2="460.0"/>
<path class="kw" d="M321.4 472 v2.4 a11.1 3.7 0 0 0 22.2 0 v-2.4 Z"/>
<ellipse class="kw" cx="332.5" cy="472.0" rx="11.1" ry="3.7"/>
<path class="kw" d="M324.7 462.4 L322 470.2 A10.5 3.4 0 0 0 343 470.2 L340.3 462.4 Z"/>
<path class="kt" d="M328.6 465 L327.6 473.2 M336.4 465 L337.4 473.2"/>
<ellipse class="k1w" cx="332.5" cy="462.4" rx="7.8" ry="2.8"/>
<ellipse class="k1" cx="332.5" cy="462.6" rx="5.2" ry="1.7"/>
<path class="kw" d="M317.9 501 v1.4 a14.6 5 0 0 0 29.2 0 v-1.4 Z"/>
<ellipse class="kw" cx="332.5" cy="501.0" rx="14.6" ry="5.0"/>
<ellipse class="k" cx="332.6" cy="500.8" rx="10.6" ry="3.0"/>
<line class="k" x1="332.5" y1="478.0" x2="332.5" y2="499.5"/>
<path class="kw" d="M318.1 528.6 v1.5 a14.4 4.2 0 0 0 28.8 0 v-1.5 Z"/>
<ellipse class="kw" cx="332.5" cy="528.6" rx="14.4" ry="4.1"/>
<ellipse class="dot" cx="342.4" cy="530.1" rx="0.7" ry="0.5"/>
<ellipse class="dot" cx="332.5" cy="531.6" rx="0.7" ry="0.5"/>
<ellipse class="dot" cx="322.6" cy="530.1" rx="0.7" ry="0.5"/>
<ellipse class="dot" cx="322.6" cy="527.1" rx="0.7" ry="0.5"/>
<ellipse class="dot" cx="332.5" cy="525.6" rx="0.7" ry="0.5"/>
<ellipse class="dot" cx="342.4" cy="527.1" rx="0.7" ry="0.5"/>
<ellipse class="dot" cx="332.5" cy="528.6" rx="0.8" ry="0.6"/>
<path class="kh" d="M324 533.2 a10 1.6 0 0 0 17 0.1"/>
<line class="k" x1="332.5" y1="507.5" x2="332.5" y2="528.4"/>
<line class="k" x1="321.8" y1="534.4" x2="321.8" y2="554.4"/>
<ellipse class="wa" cx="321.8" cy="542.6" rx="2.7" ry="1.1"/>
<path class="kb" d="M320 554.4 h3.9 v9.2 h1.9 v3.4 l-0.8 0.8 h-5.8 l-0.8 -0.8 v-3.4 h1.6 Z"/>
<line class="kt" x1="318.6" y1="565.6" x2="325.8" y2="565.6"/>
<text class="lb" x="292.5" y="450.8" text-anchor="start">17</text>
<line class="rp" x1="312.1" y1="440.2" x2="320.1" y2="436.7"/>
<text class="lb" x="294.6" y="486.5" text-anchor="start">18</text>
<line class="rp" x1="313.5" y1="480" x2="322" y2="474.2"/>
<text class="lb" x="294.6" y="515.0" text-anchor="start">19</text>
<line class="rp" x1="312.1" y1="506.2" x2="319.3" y2="502.2"/>
<text class="lb" x="294.6" y="541.7" text-anchor="start">20</text>
<line class="rp" x1="312.1" y1="534.3" x2="319.3" y2="529.5"/>
<text class="lb" x="341.3" y="553.2" text-anchor="start">14</text>
<line class="r" x1="324.4" y1="543.1" x2="338.9" y2="546.3"/>
<text class="lb" x="339.6" y="569.8" text-anchor="start">13</text>
<line class="r" x1="324.9" y1="559.1" x2="337.5" y2="563.7"/>
<ellipse class="kw" cx="593.3" cy="522.6" rx="3.2" ry="3.4"/>
<ellipse class="k" cx="593.0" cy="522.5" rx="1.9" ry="2.1"/>
<path class="kw" d="M626.5 535 L623.8 536.3 L624.6 541 L628.2 543.3 Z"/>
<ellipse class="kw" cx="630.8" cy="540.3" rx="3.6" ry="4.1" transform="rotate(-15 630.8 540.3)"/>
<text class="lb" x="576.5" y="556.0" text-anchor="start">14</text>
<line class="r" x1="592.3" y1="526.2" x2="585.8" y2="542.5"/>
<text class="lb" x="611.8" y="572.1" text-anchor="start">13</text>
<line class="r" x1="629.5" y1="544.5" x2="621.0" y2="560.1"/>
<text class="lb" x="519.2" y="535.4" text-anchor="start">15</text>
<line class="r" x1="540.5" y1="499.7" x2="530.4" y2="522.3"/>
<text class="lb" x="472.4" y="518.9" text-anchor="start">16</text>
<line class="r" x1="495.2" y1="489.6" x2="484.1" y2="507.2"/>
<text class="lb" x="671.2" y="502.6" text-anchor="start">12</text>
<line class="r" x1="683.9" y1="467.0" x2="678.9" y2="489.6"/>
<text class="lb" x="776.0" y="460.6" text-anchor="start">32</text>
<line class="r" x1="829.6" y1="394.5" x2="786.0" y2="446.5"/>
<text class="lb" x="830.2" y="473.3" text-anchor="start">11</text>
<line class="r" x1="844.8" y1="434.6" x2="838.5" y2="459.5"/>
<text class="lb" x="867.7" y="473.3" text-anchor="start">31</text>
<line class="r" x1="887.0" y1="384.0" x2="876.0" y2="460.5"/>
<text class="lb" x="418.6" y="447.3" text-anchor="start">28<tspan dx="0.9">-</tspan><tspan dx="0.9">29</tspan></text>
<line class="r" x1="465.5" y1="386.5" x2="449.4" y2="434.3"/>
<text class="lb" x="446.8" y="148.9" text-anchor="start">1<tspan dx="0.9">-</tspan><tspan dx="0.9">30</tspan></text>
<line class="r" x1="455.5" y1="151.0" x2="437.8" y2="183.7"/>
<text class="wm" transform="translate(328.2,485.4) rotate(-44.8)">www.cnloader.com</text>
<g id="logo">
<circle cx="27.6" cy="612.6" r="10.3" fill="#fff" stroke="#e23a30" stroke-width="1.1"/>
<path d="M27.6 601.8 Q30.6 611.2 37.3 618.3 Q27.6 615.4 17.9 618.3 Q24.6 611.2 27.6 601.8 Z" fill="#e0261c"/>
<path d="M27.6 601.8 Q28.6 608 28.2 611.4 L25.4 610.6 Q27 606 27.6 601.8 Z M37.3 618.3 Q32.5 615.2 28.6 613.9 L30.6 611.9 Q33.5 615.6 37.3 618.3 Z M17.9 618.3 Q23 615.6 26.6 612.6 L27.4 615.6 Q22.5 616.4 17.9 618.3 Z" fill="#b3120e"/>
<path d="M27.7 610.9 L29.3 613.6 L26.3 613.5 Z" fill="#fff" fill-opacity="0.9"/>
<text x="44.4" y="618" font-family="Liberation Sans, sans-serif" font-weight="bold" font-size="16px" fill="#4a4b50" stroke="#4a4b50" stroke-width="0.5" textLength="57.5" lengthAdjust="spacingAndGlyphs">SANY</text>
</g>
</svg>
<div id="rule"></div>
<div id="title">11646106 Assembly, working oil tank (1/2)</div>
</body></html>
